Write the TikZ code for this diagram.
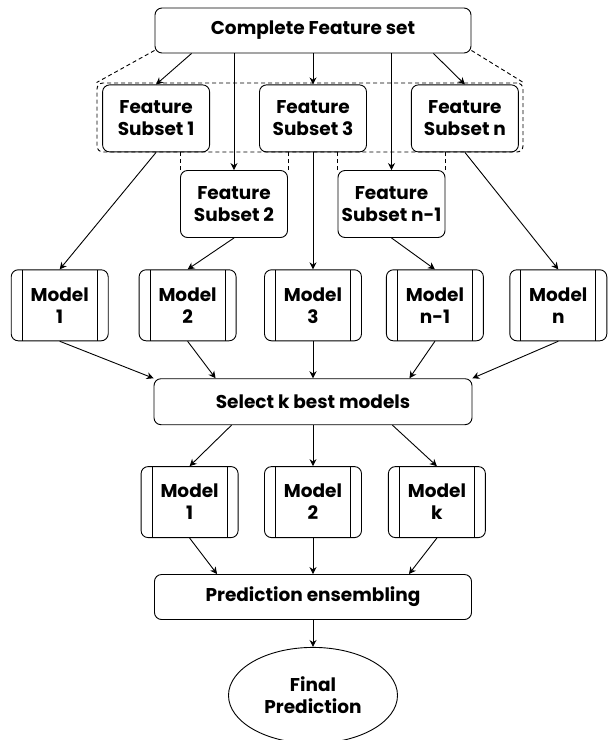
\documentclass[tikz,border=0pt]{standalone}
\usepackage{fontspec}
\setmainfont{Poppins}
\usetikzlibrary{shapes,arrows,arrows.meta,positioning}
\tikzstyle{fbox} = [rectangle, rounded corners=7pt, draw=black, line width=0.9pt, text centered, align=center, inner sep=0pt, font=\bfseries\fontsize{18.5}{22}\selectfont]
\tikzstyle{subset} = [fbox, minimum width=107pt, minimum height=67pt]
\tikzstyle{wide} = [fbox, minimum width=317pt, minimum height=45pt]
\tikzstyle{model} = [fbox, minimum width=97pt, minimum height=71pt, path picture={
	\draw[line width=0.9pt] ([xshift=11pt]path picture bounding box.north west) -- ([xshift=11pt]path picture bounding box.south west)
	([xshift=-11pt]path picture bounding box.north east) -- ([xshift=-11pt]path picture bounding box.south east);}]
\tikzstyle{final} = [ellipse, draw=black, line width=0.9pt, align=center, inner sep=0pt, minimum width=169pt, minimum height=96pt, font=\bfseries\fontsize{18.5}{22}\selectfont]
\tikzstyle{group} = [rectangle, rounded corners=6pt, draw=black, dash pattern=on 4pt off 3pt, line width=0.9pt, minimum width=426pt, minimum height=69pt]
\tikzstyle{guide} = [dash pattern=on 4pt off 3pt, line width=0.9pt]
\tikzstyle{arrow} = [line width=0.9pt,->,>={Stealth[length=7pt,width=7pt]}]

\begin{document}
\begin{tikzpicture}[x=1pt,y=-1pt]
	\useasboundingbox (0,0) rectangle (608,740);
	\node[wide, minimum width=316pt] (top) at (313,30.5) {Complete Feature set};
	\node[group] (grp) at (310,117.5) {};
	\node[subset, below=31pt of top] (fs3) {Feature\\Subset 3};
	\node[subset, left=49pt of fs3] (fs1) {Feature\\Subset 1};
	\node[subset, right=44pt of fs3] (fsn) {Feature\\Subset n};
	\node[subset] (fs2) at (234,204) {Feature\\Subset 2};
	\node[subset] (fsn1) at (391.5,204) {Feature\\Subset n-1};
	
	\node[model, below=117pt of fs3] (m3) {Model\\3};
	\node[model, left=27.5pt of m3] (m2) {Model\\2};
	\node[model, left=30pt of m2] (m1) {Model\\1};
	\node[model, right=24pt of m3] (mn1) {Model\\n-1};
	\node[model, right=25.5pt of mn1] (mn) {Model\\n};
	
	\node[wide, minimum width=318pt, minimum height=46pt, below=37pt of m3] (sel) {Select k best models};
	\node[model, below=41pt of sel] (k2) {Model\\2};
	\node[model, left=25.5pt of k2] (k1) {Model\\1};
	\node[model, right=26pt of k2] (kk) {Model\\k};
	\node[wide, below=36pt of k2] (pred) {Prediction ensembling};
	\node[final, below=27pt of pred] (fin) {Final\\Prediction};
	
	% feature set to subsets
	\draw[arrow] ([xshift=37pt]top.south west) -- (fs1.north);
	\draw[arrow] (top.south -| fs2.north) -- (fs2.north);
	\draw[arrow] (top) -- (fs3);
	\draw[arrow] (top.south -| fsn1.north) -- (fsn1.north);
	\draw[arrow] ([xshift=-38pt]top.south east) -- (fsn.north);
	\draw[guide] ([yshift=3pt]top.south west) -- (grp.north west);
	\draw[guide] ([yshift=3pt]top.south east) -- (grp.north east);
	\draw[guide] (fs2.north west) -- (fs2.north west |- grp.south);
	\draw[guide] (fs2.north east) -- (fs2.north east |- grp.south);
	\draw[guide] (fsn1.north west) -- (fsn1.north west |- grp.south);
	\draw[guide] (fsn1.north east) -- (fsn1.north east |- grp.south);
	
	% subsets to models
	\draw[arrow] (fs1.south) -- (m1.north);
	\draw[arrow] (fs2.south) -- (m2.north);
	\draw[arrow] (fs3.south) -- (m3.north);
	\draw[arrow] (fsn1.south) -- (mn1.north);
	\draw[arrow] (fsn.south) -- (mn.north);
	
	% models to selection
	\draw[arrow] (m1.south) -- (sel.north west);
	\draw[arrow] (m2.south) -- ([xshift=62pt]sel.north west);
	\draw[arrow] (m3.south) -- (sel.north);
	\draw[arrow] (mn1.south) -- ([xshift=-63pt]sel.north east);
	\draw[arrow] (mn.south) -- (sel.north east);
	
	% selection to ensembling
	\draw[arrow] ([xshift=78pt]sel.south west) -- (k1.north);
	\draw[arrow] (sel.south) -- (k2.north);
	\draw[arrow] ([xshift=-80pt]sel.south east) -- (kk.north);
	\draw[arrow] (k1.south) -- ([xshift=63pt]pred.north west);
	\draw[arrow] (k2.south) -- (pred.north);
	\draw[arrow] (kk.south) -- ([xshift=-63pt]pred.north east);
	\draw[arrow] (pred) -- (fin);
\end{tikzpicture}
\end{document}
